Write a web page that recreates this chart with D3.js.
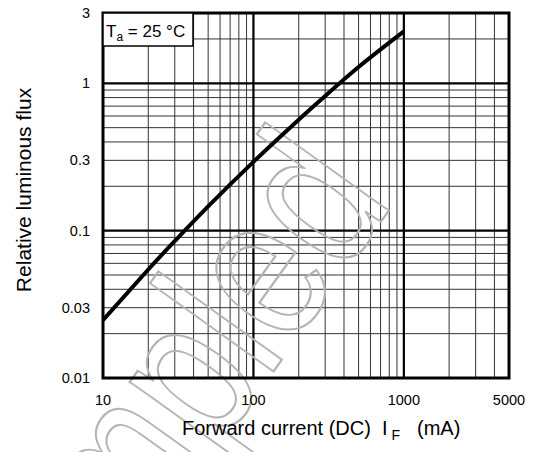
<!DOCTYPE html>
<html>
<head>
<meta charset="utf-8">
<script src="https://cdn.jsdelivr.net/npm/d3@7"></script>
<style>
  body { margin: 0; background: #fff; }
  text { font-family: "Liberation Sans", Arial, sans-serif; fill: #000; }
</style>
</head>
<body>
<div id="app"></div>
<script>
// forward current (mA) vs relative luminous flux
const currentMA = [10, 20, 30, 50, 100, 200, 300, 500, 1000];
const relFlux = [0.0247, 0.0545, 0.085, 0.146, 0.293, 0.566, 0.82, 1.29, 2.25];

const xTicks = [10, 100, 1000, 5000];
const yTicks = [0.01, 0.03, 0.1, 0.3, 1, 3];
const xMajor = [100, 1000];
const yMajor = [0.1, 1];
const xMinor = [20, 30, 40, 50, 60, 70, 80, 90, 200, 300, 400, 500, 600, 700, 800, 900, 2000, 3000, 4000];
const yMinor = [0.02, 0.03, 0.04, 0.05, 0.06, 0.07, 0.08, 0.09, 0.2, 0.3, 0.4, 0.5, 0.6, 0.7, 0.8, 0.9, 2];

const W = 540, H = 452;
const margin = { top: 13, right: 31, bottom: 74, left: 103 };

const svg = d3.select("#app").append("svg")
    .attr("width", W)
    .attr("height", H);

const x = d3.scaleLog().domain([10, 5000]).range([margin.left, W - margin.right]);
const y = d3.scaleLog().domain([0.01, 3]).range([H - margin.bottom, margin.top]);

// minor grid
svg.append("g").selectAll("line").data(xMinor).enter().append("line")
    .attr("x1", (d) => x(d)).attr("x2", (d) => x(d))
    .attr("y1", y(0.01)).attr("y2", y(3))
    .attr("stroke", "#333").attr("stroke-width", 1);
svg.append("g").selectAll("line").data(yMinor).enter().append("line")
    .attr("x1", x(10)).attr("x2", x(5000))
    .attr("y1", (d) => y(d)).attr("y2", (d) => y(d))
    .attr("stroke", "#333").attr("stroke-width", 1);

// decade lines
svg.append("g").selectAll("line").data(xMajor).enter().append("line")
    .attr("x1", (d) => x(d)).attr("x2", (d) => x(d))
    .attr("y1", y(0.01)).attr("y2", y(3))
    .attr("stroke", "#000").attr("stroke-width", 2.2);
svg.append("g").selectAll("line").data(yMajor).enter().append("line")
    .attr("x1", x(10)).attr("x2", x(5000))
    .attr("y1", (d) => y(d)).attr("y2", (d) => y(d))
    .attr("stroke", "#000").attr("stroke-width", 2.2);

// watermark (outlined grey letters)
svg.append("text")
    .attr("transform", "translate(16,731) rotate(-54.4) scale(1,1.27)")
    .attr("font-size", 165)
    .style("fill", "none")
    .attr("stroke", "#b4b4b4")
    .attr("stroke-width", 2)
    .attr("vector-effect", "non-scaling-stroke")
    .text("Sampled");

// frame
svg.append("rect")
    .attr("x", x(10)).attr("y", y(3))
    .attr("width", x(5000) - x(10)).attr("height", y(0.01) - y(3))
    .attr("fill", "none").attr("stroke", "#000").attr("stroke-width", 3);

// curve
const line = d3.line()
    .x((d, i) => x(currentMA[i]))
    .y((d) => y(d))
    .curve(d3.curveNatural);
svg.append("path")
    .datum(relFlux)
    .attr("d", line)
    .attr("fill", "none")
    .attr("stroke", "#000")
    .attr("stroke-width", 4);

// condition box
const box = svg.append("g");
box.append("rect")
    .attr("x", x(10)).attr("y", y(3))
    .attr("width", 90).attr("height", 33)
    .attr("fill", "#fff").attr("stroke", "#000").attr("stroke-width", 1.5);
const bt = box.append("text")
    .attr("x", x(10) + 3).attr("y", y(3) + 24)
    .attr("font-size", 17);
bt.append("tspan").text("T");
bt.append("tspan").attr("font-size", 12).attr("dy", 4).text("a");
bt.append("tspan").attr("dy", -4).text(" = 25 \u00b0C");

// tick labels
svg.append("g").selectAll("text").data(xTicks).enter().append("text")
    .attr("x", (d) => x(d))
    .attr("y", y(0.01) + 27)
    .attr("text-anchor", "middle")
    .attr("font-size", 14.5)
    .text((d) => d);
svg.append("g").selectAll("text").data(yTicks).enter().append("text")
    .attr("x", x(10) - 13)
    .attr("y", (d) => y(d) + 5)
    .attr("text-anchor", "end")
    .attr("font-size", 14.5)
    .text((d) => d);

// axis titles
const xt = svg.append("text")
    .attr("x", 182).attr("y", 435)
    .attr("font-size", 20);
xt.append("tspan").text("Forward current (DC)");
xt.append("tspan").attr("dx", 11).text("I");
xt.append("tspan").attr("font-size", 14).attr("dx", 4).attr("dy", 5).text("F");
xt.append("tspan").attr("dx", 17).attr("dy", -5).text("(mA)");

svg.append("text")
    .attr("transform", "translate(31,190) rotate(-90)")
    .attr("text-anchor", "middle")
    .attr("font-size", 21)
    .text("Relative luminous flux");
</script>
</body>
</html>
